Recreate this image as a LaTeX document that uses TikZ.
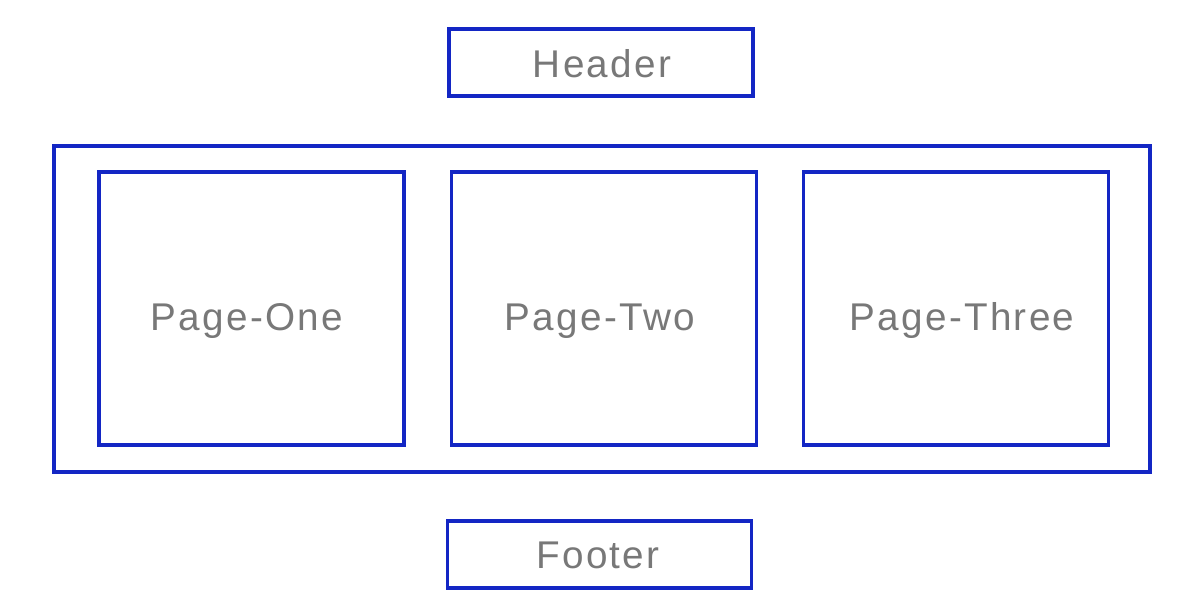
\documentclass[tikz,border=0pt]{standalone}
\usepackage{fontspec}
\usepackage{xcolor}
\usepackage{tikz}
\newfontfamily\lblfont{Liberation Sans}[LetterSpace=6]
\definecolor{frame}{HTML}{1326C4}
\definecolor{ink}{HTML}{787878}

\begin{document}
\begin{tikzpicture}[
        x=0.02cm,y=-0.02cm,
        bx/.style={draw=frame,line width=1.8pt,inner sep=0pt,minimum width=#1*0.02cm},
        bar/.style={bx=304,minimum height=1.34cm},
        pg/.style={bx=305,minimum height=5.46cm},
        lbl/.style={anchor=base,text=ink,inner sep=0pt,font=\lblfont\fontsize{22}{26}\selectfont}
      ]
      \useasboundingbox (0,0) rectangle (1200,602);
      % top and bottom bars
      \node[bar] (header) at (601,62.5) {};
      \node[bar] (footer) at (599.5,554.5) {};
      % frame round the pages
      \node[bx=1096,minimum height=6.52cm] (frame) at (602,309) {};
      \node[pg] (one) at (251.5,308.5) {};
      \node[pg] (two) at (604,308.5) {};
      \node[pg] (three) at (956,308.5) {};
      % texts
      \node[lbl] (headertxt) at (602,77) {Header};
      \node[lbl] (footertxt) at (598,568) {Footer};
      \node[lbl] (onetxt) at (247,330) {Page-One};
      \node[lbl] (twotxt) at (600,330) {Page-Two};
      \node[lbl] (threetxt) at (962,330) {Page-Three};
    \end{tikzpicture}
\end{document}
